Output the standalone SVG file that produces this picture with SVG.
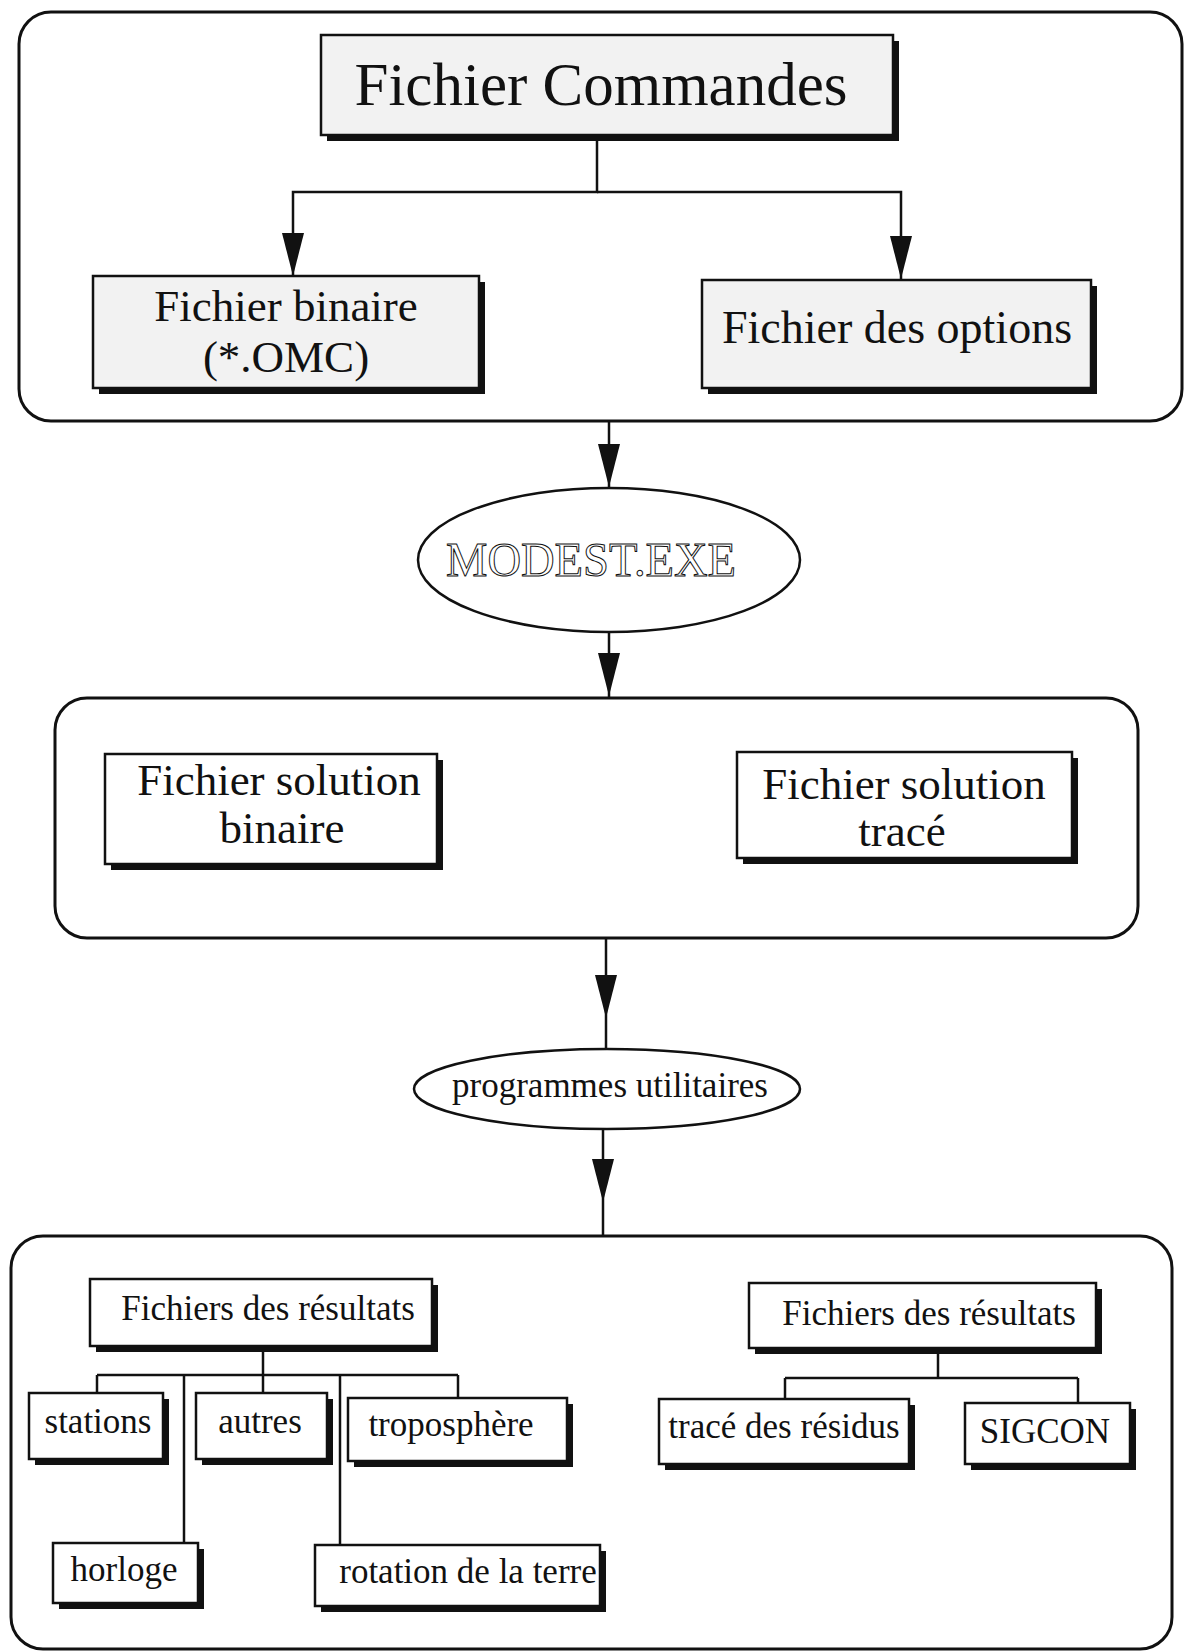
<svg xmlns="http://www.w3.org/2000/svg" width="1184" height="1652" viewBox="0 0 1184 1652">
<defs>
<style>
.frame{fill:none;stroke:#111;stroke-width:3}
.box{fill:#fff;stroke:#111;stroke-width:2.5}
.shade{fill:#f2f2f2;stroke:#111;stroke-width:2.5}
.sh{fill:#111}
.ln{fill:none;stroke:#111;stroke-width:2.5}
.t{font-family:"Liberation Serif","Times New Roman",serif;fill:#111;text-anchor:middle}
.ell{fill:#fff;stroke:#111;stroke-width:2.5}
</style>
<path id="ah" d="M-11,-43 L11,-43 L0,0 Z" fill="#111"/>
</defs>
<rect width="1184" height="1652" fill="#fff"/>

<g id="frame-top"><rect class="frame" x="19" y="12" width="1163" height="409" rx="32"/></g>
<g id="frame-mid"><rect class="frame" x="55" y="698" width="1083" height="240" rx="32"/></g>
<g id="frame-bottom"><rect class="frame" x="11" y="1236" width="1161" height="413" rx="32"/></g>

<g id="connectors">
<polyline class="ln" points="597,135 597,192 293,192 293,276"/>
<polyline class="ln" points="597,192 901,192 901,279"/>
<use href="#ah" x="293" y="276"/>
<use href="#ah" x="901" y="279"/>
<line class="ln" x1="609" y1="421" x2="609" y2="488"/>
<use href="#ah" x="609" y="487"/>
<line class="ln" x1="609" y1="632" x2="609" y2="698"/>
<use href="#ah" x="609" y="696"/>
<line class="ln" x1="606" y1="938" x2="606" y2="1050"/>
<use href="#ah" x="606" y="1018"/>
<line class="ln" x1="603" y1="1128" x2="603" y2="1236"/>
<use href="#ah" x="603" y="1202"/>
<polyline class="ln" points="263,1346 263,1393"/>
<line class="ln" x1="97" y1="1375" x2="458" y2="1375"/>
<line class="ln" x1="97" y1="1375" x2="97" y2="1393"/>
<line class="ln" x1="184" y1="1375" x2="184" y2="1543"/>
<line class="ln" x1="340" y1="1375" x2="340" y2="1545"/>
<line class="ln" x1="458" y1="1375" x2="458" y2="1398"/>
<line class="ln" x1="938" y1="1348" x2="938" y2="1378"/>
<line class="ln" x1="785" y1="1378" x2="1078" y2="1378"/>
<line class="ln" x1="785" y1="1378" x2="785" y2="1399"/>
<line class="ln" x1="1078" y1="1378" x2="1078" y2="1403"/>
</g>

<g id="n-commandes">
<rect class="sh" x="327" y="41" width="572" height="100"/>
<rect class="shade" x="321" y="35" width="572" height="100"/>
<text class="t" x="601" y="105" font-size="61">Fichier Commandes</text>
</g>

<g id="n-binaire">
<rect class="sh" x="99" y="282" width="386" height="112"/>
<rect class="shade" x="93" y="276" width="386" height="112"/>
<text class="t" x="286" y="321" font-size="45">Fichier binaire</text>
<text class="t" x="286" y="372" font-size="45">(*.OMC)</text>
</g>

<g id="n-options">
<rect class="sh" x="708" y="286" width="389" height="108"/>
<rect class="shade" x="702" y="280" width="389" height="108"/>
<text class="t" x="897" y="343" font-size="46">Fichier des options</text>
</g>

<g id="n-modest">
<ellipse class="ell" cx="609" cy="560" rx="191" ry="72"/>
<text class="t" x="591" y="576" font-size="48" stroke="#111" stroke-width="1" textLength="290" lengthAdjust="spacingAndGlyphs" style="fill:#fff">MODEST.EXE</text>
</g>

<g id="n-sol-binaire">
<rect class="sh" x="111" y="760" width="332" height="110"/>
<rect class="box" x="105" y="754" width="332" height="110"/>
<text class="t" x="279" y="795" font-size="45">Fichier solution</text>
<text class="t" x="282" y="843" font-size="45">binaire</text>
</g>

<g id="n-sol-trace">
<rect class="sh" x="743" y="758" width="335" height="106"/>
<rect class="box" x="737" y="752" width="335" height="106"/>
<text class="t" x="904" y="799" font-size="45">Fichier solution</text>
<text class="t" x="902" y="846" font-size="45">tracé</text>
</g>

<g id="n-utilitaires">
<ellipse class="ell" cx="607" cy="1089" rx="193" ry="40"/>
<text class="t" x="610" y="1097" font-size="35">programmes utilitaires</text>
</g>

<g id="n-res-left">
<rect class="sh" x="96" y="1285" width="342" height="67"/>
<rect class="box" x="90" y="1279" width="342" height="67"/>
<text class="t" x="268" y="1320" font-size="35">Fichiers des résultats</text>
</g>

<g id="n-stations">
<rect class="sh" x="35" y="1399" width="134" height="66"/>
<rect class="box" x="29" y="1393" width="134" height="66"/>
<text class="t" x="98" y="1433" font-size="35">stations</text>
</g>

<g id="n-autres">
<rect class="sh" x="202" y="1399" width="131" height="66"/>
<rect class="box" x="196" y="1393" width="131" height="66"/>
<text class="t" x="260" y="1433" font-size="35">autres</text>
</g>

<g id="n-tropo">
<rect class="sh" x="354" y="1404" width="219" height="63"/>
<rect class="box" x="348" y="1398" width="219" height="63"/>
<text class="t" x="451" y="1436" font-size="35">troposphère</text>
</g>

<g id="n-horloge">
<rect class="sh" x="59" y="1549" width="145" height="60"/>
<rect class="box" x="53" y="1543" width="145" height="60"/>
<text class="t" x="124" y="1581" font-size="35">horloge</text>
</g>

<g id="n-rotation">
<rect class="sh" x="321" y="1551" width="285" height="61"/>
<rect class="box" x="315" y="1545" width="285" height="61"/>
<text class="t" x="468" y="1583" font-size="35">rotation de la terre</text>
</g>

<g id="n-res-right">
<rect class="sh" x="755" y="1289" width="347" height="65"/>
<rect class="box" x="749" y="1283" width="347" height="65"/>
<text class="t" x="929" y="1325" font-size="35">Fichiers des résultats</text>
</g>

<g id="n-trace-residus">
<rect class="sh" x="665" y="1405" width="250" height="65"/>
<rect class="box" x="659" y="1399" width="250" height="65"/>
<text class="t" x="784" y="1438" font-size="35">tracé des résidus</text>
</g>

<g id="n-sigcon">
<rect class="sh" x="971" y="1409" width="165" height="61"/>
<rect class="box" x="965" y="1403" width="165" height="61"/>
<text class="t" x="1045" y="1443" font-size="35">SIGCON</text>
</g>
</svg>
